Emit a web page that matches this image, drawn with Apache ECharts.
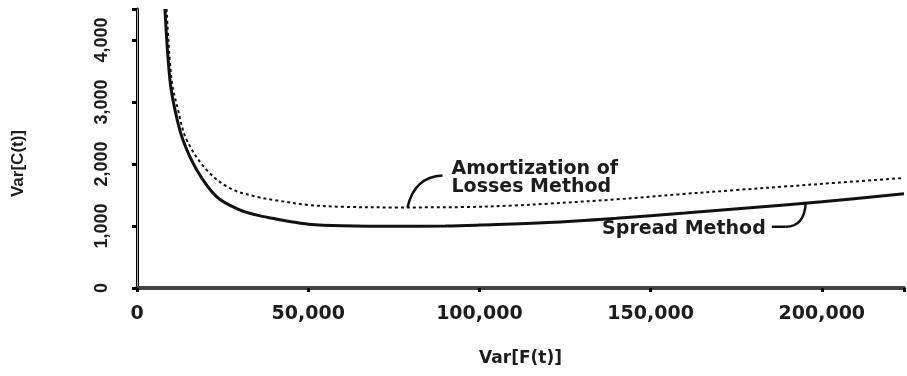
<!DOCTYPE html>
<html><head><meta charset="utf-8">
<script src="https://cdn.jsdelivr.net/npm/echarts@6/dist/echarts.min.js"></script>
<style>html,body{margin:0;padding:0;background:#fff}#c{width:907px;height:376px}</style>
</head><body><div id="c"></div>
<script>
// Data
var spreadX = [8160, 9600, 11100, 13400, 17500, 23300, 30000, 35000, 40000, 45000, 50000, 60000, 75000, 90000, 100000, 120000, 140000, 160000, 180000, 200000, 224000];
var spreadY = [4500, 3360, 2870, 2390, 1900, 1470, 1260, 1175, 1120, 1070, 1030, 1005, 995, 1000, 1015, 1055, 1125, 1210, 1300, 1390, 1520];
var amortX = [8650, 10100, 12000, 14500, 20400, 27100, 35000, 40000, 50000, 60000, 75000, 95000, 110000, 120000, 140000, 158000, 175000, 190000, 205000, 224000];
var amortY = [4500, 3360, 2870, 2390, 1900, 1610, 1470, 1420, 1340, 1310, 1300, 1305, 1330, 1360, 1430, 1510, 1580, 1640, 1700, 1775];
var xTicks = [0, 50000, 100000, 150000, 200000];
var yTicks = [0, 1000, 2000, 3000, 4000];
var xName = 'Var[F(t)]';
var yName = 'Var[C(t)]';
var amortLabel = ['Amortization of', 'Losses Method'];
var spreadLabel = 'Spread Method';

function pairs(xs, ys) { return xs.map(function (x, i) { return [x, ys[i]]; }); }
function fmt(v) { return v.toLocaleString('en-US'); }

var chart = echarts.init(document.getElementById('c'));
var txtColor = '#1c1c1c';
var narrow = "'Liberation Sans', Arial, sans-serif";
chart.setOption({
  animation: false,
  grid: { left: 137, right: 2, top: 9, bottom: 88, show: false },
  xAxis: [{
    type: 'value', min: 0, max: 224000, interval: 50000,
    name: xName, nameLocation: 'middle', nameGap: 62,
    nameTextStyle: { fontFamily: 'DejaVu Sans', fontWeight: 'bold', fontSize: 17, color: txtColor },
    axisLine: { show: true, lineStyle: { color: '#000', width: 3 } },
    axisTick: { show: true, inside: false, length: 4, lineStyle: { color: '#000', width: 3 } },
    axisLabel: { margin: 17, fontFamily: 'DejaVu Sans', fontWeight: 'bold', fontSize: 19, color: txtColor,
      formatter: function (v) { return xTicks.indexOf(v) >= 0 ? fmt(v) : ''; } },
    splitLine: { show: false }
  }, {
    type: 'value', position: 'top', min: 0, max: 224000,
    axisLine: { show: true, lineStyle: { color: '#444', width: 4 } },
    axisTick: { show: false }, axisLabel: { show: false }, splitLine: { show: false }
  }],
  yAxis: [{
    type: 'value', min: 0, max: 4500, interval: 1000,
    name: yName, nameLocation: 'middle', nameGap: 110, nameRotate: 90,
    nameTextStyle: { fontFamily: narrow, fontWeight: 'bold', fontSize: 17, color: txtColor, padding: [0, 30, 0, 0] },
    axisLine: { show: true, lineStyle: { color: '#000', width: 3 } },
    axisTick: { show: true, length: 5, lineStyle: { color: '#000', width: 3 } },
    axisLabel: { rotate: 90, margin: 26, fontFamily: narrow, fontWeight: 'bold', fontSize: 18, color: txtColor,
      formatter: function (v) { return yTicks.indexOf(v) >= 0 ? fmt(v) : ''; } },
    splitLine: { show: false }
  }, {
    type: 'value', position: 'right', min: 0, max: 4500,
    axisLine: { show: true, lineStyle: { color: '#aaa', width: 1 } },
    axisTick: { show: false }, axisLabel: { show: false }, splitLine: { show: false }
  }],
  series: [{
    name: 'Amortization of Losses Method', type: 'line', showSymbol: false,
    smooth: 0.35, clip: true,
    data: pairs(amortX, amortY),
    lineStyle: { color: '#111', width: 2, type: [3, 3] }
  }, {
    name: 'Spread Method', type: 'line', showSymbol: false,
    smooth: 0.35, clip: true,
    data: pairs(spreadX, spreadY),
    lineStyle: { color: '#111', width: 3 }
  }]
});

// Annotations anchored at points on the curves
var a = chart.convertToPixel({ gridIndex: 0 }, [79000, 1300]);
var s = chart.convertToPixel({ gridIndex: 0 }, [195300, 1375]);
var tStyle = { fontFamily: 'DejaVu Sans', fontWeight: 'bold', fontSize: 19, fill: txtColor };
chart.setOption({
  graphic: [
    { type: 'bezierCurve', shape: { x1: a[0], y1: a[1], cpx1: a[0] + 4, cpy1: a[1] - 18, cpx2: a[0] + 14, cpy2: a[1] - 31, x2: a[0] + 35, y2: a[1] - 32 },
      style: { stroke: '#111', lineWidth: 2.5, fill: null } },
    { type: 'text', x: a[0] + 44, y: a[1] - 38, style: Object.assign({ text: amortLabel[0], verticalAlign: 'middle', align: 'left' }, tStyle) },
    { type: 'text', x: a[0] + 44, y: a[1] - 20, style: Object.assign({ text: amortLabel[1], verticalAlign: 'middle', align: 'left' }, tStyle) },
    { type: 'bezierCurve', shape: { x1: s[0], y1: s[1], cpx1: s[0] - 1, cpy1: s[1] + 18, cpx2: s[0] - 9, cpy2: s[1] + 24, x2: s[0] - 20, y2: s[1] + 24 },
      style: { stroke: '#111', lineWidth: 2.5, fill: null } },
    { type: 'line', shape: { x1: s[0] - 20, y1: s[1] + 24, x2: s[0] - 34, y2: s[1] + 24 }, style: { stroke: '#111', lineWidth: 2.5 } },
    { type: 'text', x: s[0] - 40, y: s[1] + 26, style: Object.assign({ text: spreadLabel, verticalAlign: 'middle', align: 'right' }, tStyle) }
  ]
});
</script></body></html>
